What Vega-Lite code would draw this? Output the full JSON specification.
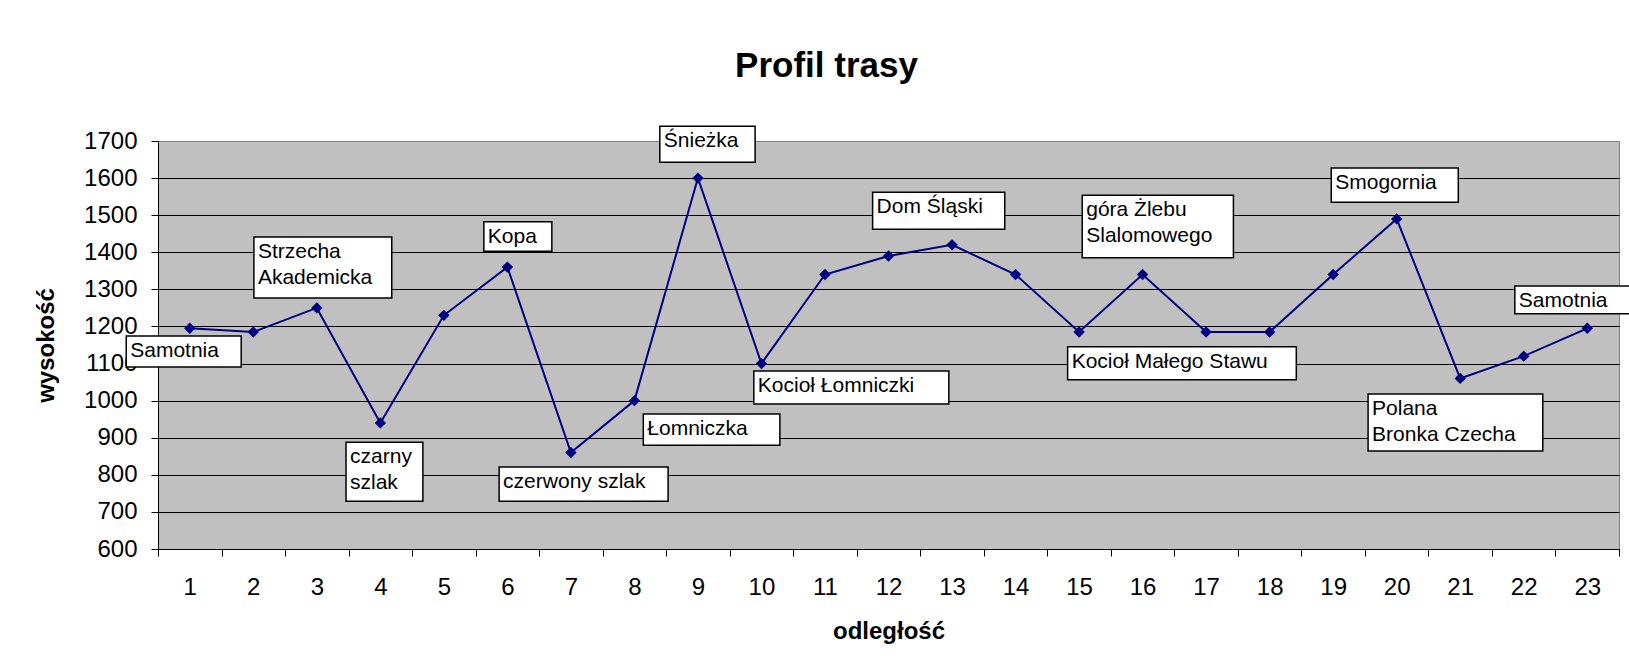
{
  "$schema": "https://vega.github.io/schema/vega-lite/v6.json",
  "width": 1461,
  "height": 408,
  "autosize": "none",
  "padding": {"left": 158, "top": 141, "right": 10, "bottom": 123},
  "background": "white",
  "title": {
    "text": "Profil trasy",
    "fontSize": 35,
    "fontWeight": "bold",
    "font": "Liberation Sans",
    "color": "#000000",
    "anchor": "middle",
    "frame": "group",
    "baseline": "alphabetic",
    "offset": 13,
    "dx": -62
  },
  "config": {
    "font": "Liberation Sans",
    "axis": {"labelOverlap": false, "labelFlush": false},
    "view": {"fill": "#C0C0C0", "stroke": "#808080", "strokeWidth": 1}
  },
  "datasets": {
    "profil": [
      {"punkt": 1, "wysokosc": 1195},
      {"punkt": 2, "wysokosc": 1185},
      {"punkt": 3, "wysokosc": 1250},
      {"punkt": 4, "wysokosc": 940},
      {"punkt": 5, "wysokosc": 1230},
      {"punkt": 6, "wysokosc": 1360},
      {"punkt": 7, "wysokosc": 860},
      {"punkt": 8, "wysokosc": 1000},
      {"punkt": 9, "wysokosc": 1600},
      {"punkt": 10, "wysokosc": 1100},
      {"punkt": 11, "wysokosc": 1340},
      {"punkt": 12, "wysokosc": 1390},
      {"punkt": 13, "wysokosc": 1420},
      {"punkt": 14, "wysokosc": 1340},
      {"punkt": 15, "wysokosc": 1185},
      {"punkt": 16, "wysokosc": 1340},
      {"punkt": 17, "wysokosc": 1185},
      {"punkt": 18, "wysokosc": 1185},
      {"punkt": 19, "wysokosc": 1340},
      {"punkt": 20, "wysokosc": 1490},
      {"punkt": 21, "wysokosc": 1060},
      {"punkt": 22, "wysokosc": 1120},
      {"punkt": 23, "wysokosc": 1195}
    ],
    "opisy": [
      {"opis": "Samotnia", "x1": 0.0, "x2": 1.81, "y1": 1174, "y2": 1091},
      {"opis": "Strzecha\nAkademicka", "x1": 2.01, "x2": 4.18, "y1": 1441, "y2": 1277},
      {"opis": "czarny\nszlak", "x1": 3.46, "x2": 4.67, "y1": 888, "y2": 729},
      {"opis": "Kopa", "x1": 5.63, "x2": 6.70, "y1": 1482, "y2": 1403},
      {"opis": "czerwony szlak", "x1": 5.87, "x2": 8.53, "y1": 821, "y2": 729},
      {"opis": "Śnieżka", "x1": 8.40, "x2": 9.90, "y1": 1740, "y2": 1643},
      {"opis": "Łomniczka", "x1": 8.14, "x2": 10.29, "y1": 964, "y2": 880},
      {"opis": "Kocioł Łomniczki", "x1": 9.88, "x2": 12.95, "y1": 1080, "y2": 991},
      {"opis": "Dom Śląski", "x1": 11.75, "x2": 13.83, "y1": 1562, "y2": 1462},
      {"opis": "góra Żlebu\nSlalomowego", "x1": 15.05, "x2": 17.43, "y1": 1554, "y2": 1385},
      {"opis": "Kocioł Małego Stawu", "x1": 14.82, "x2": 18.42, "y1": 1145, "y2": 1056},
      {"opis": "Smogornia", "x1": 18.97, "x2": 20.97, "y1": 1627, "y2": 1535},
      {"opis": "Polana\nBronka Czecha", "x1": 19.55, "x2": 22.30, "y1": 1018, "y2": 864},
      {"opis": "Samotnia", "x1": 21.86, "x2": 23.67, "y1": 1309, "y2": 1234}
    ]
  },
  "layer": [
    {
      "data": {"name": "profil"},
      "mark": {
        "type": "line",
        "color": "#000080",
        "strokeWidth": 2,
        "point": {"shape": "diamond", "size": 130, "filled": true, "color": "#000080", "opacity": 1}
      },
      "encoding": {
        "x": {
          "field": "punkt",
          "type": "quantitative",
          "title": "odległość",
          "scale": {"domain": [0.5, 23.5], "nice": false, "zero": false},
          "axis": {
            "values": [0.5, 1, 1.5, 2, 2.5, 3, 3.5, 4, 4.5, 5, 5.5, 6, 6.5, 7, 7.5, 8, 8.5, 9, 9.5, 10, 10.5, 11, 11.5, 12, 12.5, 13, 13.5, 14, 14.5, 15, 15.5, 16, 16.5, 17, 17.5, 18, 18.5, 19, 19.5, 20, 20.5, 21, 21.5, 22, 22.5, 23, 23.5],
            "labelExpr": "floor(datum.value) === datum.value ? format(datum.value, 'd') : ''",
            "tickSize": 7,
            "tickColor": "#000000",
            "tickOpacity": {"condition": {"test": "floor(datum.value) === datum.value", "value": 0}, "value": 1},
            "labelFontSize": 24,
            "labelPadding": 19,
            "labelOverlap": false,
            "labelFlush": false,
            "labelColor": "#000000",
            "domainColor": "#000000",
            "grid": false,
            "titleFontSize": 24,
            "titleFontWeight": "bold",
            "titlePadding": 20,
            "titleColor": "#000000"
          }
        },
        "y": {
          "field": "wysokosc",
          "type": "quantitative",
          "title": "wysokość",
          "scale": {"domain": [600, 1700], "nice": false, "zero": false},
          "axis": {
            "values": [600, 700, 800, 900, 1000, 1100, 1200, 1300, 1400, 1500, 1600, 1700],
            "format": "d",
            "labelOverlap": false,
            "labelFlush": false,
            "tickSize": 7,
            "tickColor": "#000000",
            "labelPadding": 14,
            "labelFontSize": 24,
            "labelColor": "#000000",
            "grid": true,
            "gridColor": {"condition": {"test": "datum.value === 1700", "value": "#808080"}, "value": "#000000"},
            "gridWidth": 1,
            "domainColor": "#000000",
            "titleFontSize": 24,
            "titleFontWeight": "bold",
            "titlePadding": 25,
            "titleColor": "#000000"
          }
        }
      }
    },
    {
      "data": {"name": "opisy"},
      "mark": {"type": "rect", "fill": "#FFFFFF", "stroke": "#000000", "strokeWidth": 1.5},
      "encoding": {
        "x": {
          "field": "x1",
          "type": "quantitative",
          "title": "odległość",
          "axis": {
            "values": [0.5, 1, 1.5, 2, 2.5, 3, 3.5, 4, 4.5, 5, 5.5, 6, 6.5, 7, 7.5, 8, 8.5, 9, 9.5, 10, 10.5, 11, 11.5, 12, 12.5, 13, 13.5, 14, 14.5, 15, 15.5, 16, 16.5, 17, 17.5, 18, 18.5, 19, 19.5, 20, 20.5, 21, 21.5, 22, 22.5, 23, 23.5],
            "labelExpr": "floor(datum.value) === datum.value ? format(datum.value, 'd') : ''",
            "tickSize": 7,
            "tickColor": "#000000",
            "tickOpacity": {"condition": {"test": "floor(datum.value) === datum.value", "value": 0}, "value": 1},
            "labelFontSize": 24,
            "labelPadding": 19,
            "labelOverlap": false,
            "labelFlush": false,
            "labelColor": "#000000",
            "domainColor": "#000000",
            "grid": false,
            "titleFontSize": 24,
            "titleFontWeight": "bold",
            "titlePadding": 20,
            "titleColor": "#000000"
          }
        },
        "x2": {"field": "x2"},
        "y": {
          "field": "y1",
          "type": "quantitative",
          "title": "wysokość",
          "axis": {
            "values": [600, 700, 800, 900, 1000, 1100, 1200, 1300, 1400, 1500, 1600, 1700],
            "format": "d",
            "labelOverlap": false,
            "labelFlush": false,
            "tickSize": 7,
            "tickColor": "#000000",
            "labelPadding": 14,
            "labelFontSize": 24,
            "labelColor": "#000000",
            "grid": true,
            "gridColor": {"condition": {"test": "datum.value === 1700", "value": "#808080"}, "value": "#000000"},
            "gridWidth": 1,
            "domainColor": "#000000",
            "titleFontSize": 24,
            "titleFontWeight": "bold",
            "titlePadding": 25,
            "titleColor": "#000000"
          }
        },
        "y2": {"field": "y2"}
      }
    },
    {
      "data": {"name": "opisy"},
      "mark": {
        "type": "text",
        "align": "left",
        "baseline": "top",
        "dx": 4,
        "dy": 4,
        "fontSize": 21,
        "lineHeight": 26,
        "lineBreak": "\n",
        "color": "#000000"
      },
      "encoding": {
        "x": {
          "field": "x1",
          "type": "quantitative",
          "title": "odległość",
          "axis": {
            "values": [0.5, 1, 1.5, 2, 2.5, 3, 3.5, 4, 4.5, 5, 5.5, 6, 6.5, 7, 7.5, 8, 8.5, 9, 9.5, 10, 10.5, 11, 11.5, 12, 12.5, 13, 13.5, 14, 14.5, 15, 15.5, 16, 16.5, 17, 17.5, 18, 18.5, 19, 19.5, 20, 20.5, 21, 21.5, 22, 22.5, 23, 23.5],
            "labelExpr": "floor(datum.value) === datum.value ? format(datum.value, 'd') : ''",
            "tickSize": 7,
            "tickColor": "#000000",
            "tickOpacity": {"condition": {"test": "floor(datum.value) === datum.value", "value": 0}, "value": 1},
            "labelFontSize": 24,
            "labelPadding": 19,
            "labelOverlap": false,
            "labelFlush": false,
            "labelColor": "#000000",
            "domainColor": "#000000",
            "grid": false,
            "titleFontSize": 24,
            "titleFontWeight": "bold",
            "titlePadding": 20,
            "titleColor": "#000000"
          }
        },
        "y": {
          "field": "y1",
          "type": "quantitative",
          "title": "wysokość",
          "axis": {
            "values": [600, 700, 800, 900, 1000, 1100, 1200, 1300, 1400, 1500, 1600, 1700],
            "format": "d",
            "labelOverlap": false,
            "labelFlush": false,
            "tickSize": 7,
            "tickColor": "#000000",
            "labelPadding": 14,
            "labelFontSize": 24,
            "labelColor": "#000000",
            "grid": true,
            "gridColor": {"condition": {"test": "datum.value === 1700", "value": "#808080"}, "value": "#000000"},
            "gridWidth": 1,
            "domainColor": "#000000",
            "titleFontSize": 24,
            "titleFontWeight": "bold",
            "titlePadding": 25,
            "titleColor": "#000000"
          }
        },
        "text": {"field": "opis", "type": "nominal"}
      }
    }
  ]
}
